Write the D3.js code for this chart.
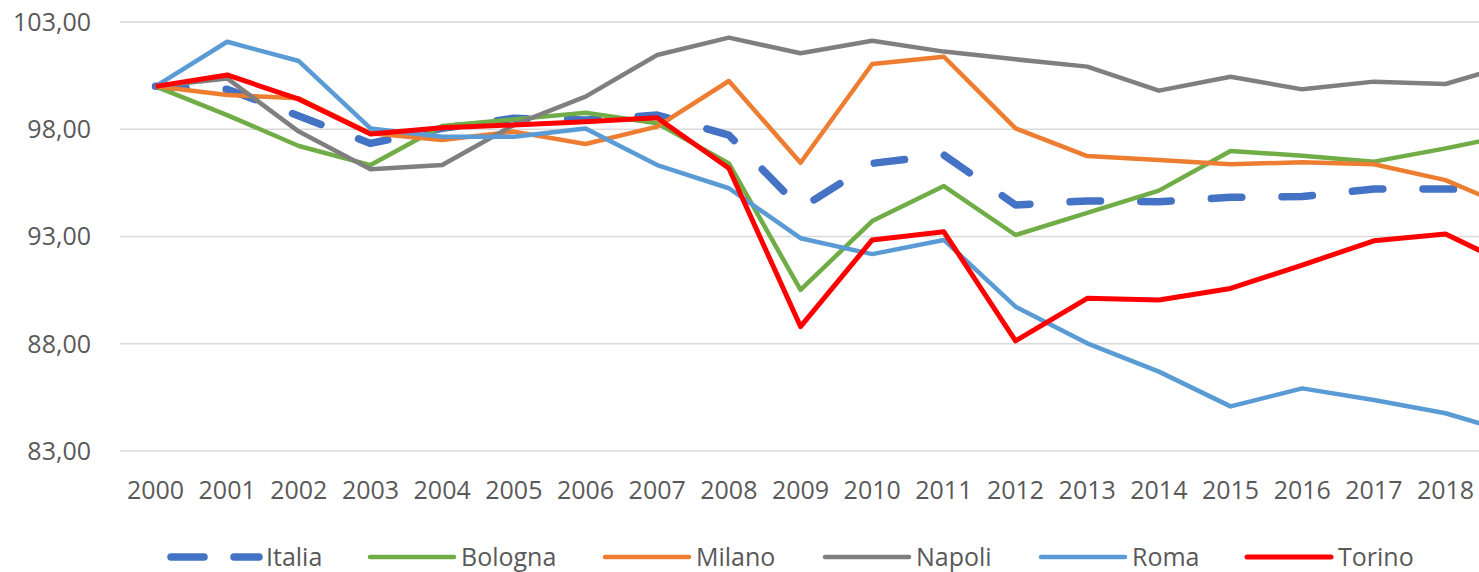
<!DOCTYPE html>
<html>
<head>
<meta charset="utf-8">
<script src="https://cdn.jsdelivr.net/npm/d3@7"></script>
<style>
  html, body { margin: 0; padding: 0; background: #fff; }
  svg { display: block; font-family: "Open Sans", sans-serif; }
</style>
</head>
<body>
<svg id="grafico" width="1479" height="572"></svg>
<script>
// anni (il 2019 esce dal bordo destro, come nell'originale)
let anni = [2000, 2001, 2002, 2003, 2004, 2005, 2006, 2007, 2008, 2009,
            2010, 2011, 2012, 2013, 2014, 2015, 2016, 2017, 2018, 2019];
let etichetteX = [2000, 2001, 2002, 2003, 2004, 2005, 2006, 2007, 2008, 2009,
                  2010, 2011, 2012, 2013, 2014, 2015, 2016, 2017, 2018];
let tickY = [83, 88, 93, 98, 103];

let italia  = [100, 99.86, 98.62, 97.34, 98.04, 98.51, 98.43, 98.66, 97.73, 94.31, 96.41, 96.80, 94.47, 94.66, 94.62, 94.83, 94.86, 95.21, 95.21, 95.2];
let bologna = [100, 98.66, 97.22, 96.33, 98.15, 98.46, 98.77, 98.28, 96.41, 90.51, 93.72, 95.35, 93.07, 94.10, 95.14, 96.99, 96.77, 96.49, 97.11, 97.8];
let milano  = [100, 99.60, 99.44, 97.81, 97.50, 97.89, 97.31, 98.12, 100.25, 96.44, 101.04, 101.38, 98.04, 96.75, 96.57, 96.37, 96.46, 96.37, 95.63, 94.2];
let napoli  = [100, 100.37, 97.89, 96.13, 96.33, 98.2, 99.52, 101.46, 102.27, 101.54, 102.13, 101.62, 101.26, 100.92, 99.80, 100.45, 99.86, 100.22, 100.11, 101.1];
let roma    = [100, 102.08, 101.18, 98.04, 97.65, 97.65, 98.04, 96.33, 95.25, 92.92, 92.18, 92.84, 89.73, 88.02, 86.70, 85.08, 85.92, 85.38, 84.76, 83.77];
let torino  = [100, 100.53, 99.40, 97.78, 98.07, 98.20, 98.35, 98.54, 96.18, 88.80, 92.84, 93.22, 88.13, 90.12, 90.04, 90.58, 91.67, 92.80, 93.12, 91.5];

let nomi   = ['Italia', 'Bologna', 'Milano', 'Napoli', 'Roma', 'Torino'];
let valori = [italia, bologna, milano, napoli, roma, torino];
let colori = ['#4472C4', '#70AD47', '#ED7D31', '#7F7F7F', '#5B9BD5', '#FF0000'];

let svg = d3.select('#grafico');
let largura = 1479;

let locale = d3.formatLocale({decimal: ',', thousands: '.', grouping: [3], currency: ['', '€']});
let fmt = locale.format('.2f');

// scale
let fnx = d3.scalePoint()
    .domain(anni)
    .range([155.5, 155.5 + 19 * 71.67]);

let fny = d3.scaleLinear()
    .domain([83, 103])
    .range([451, 22]);

// griglia orizzontale
svg.selectAll('.griglia')
    .data(tickY)
    .join('line')
    .attr('class', 'griglia')
    .attr('x1', 120)
    .attr('x2', largura)
    .attr('y1', d => fny(d))
    .attr('y2', d => fny(d))
    .attr('stroke', '#D9D9D9')
    .attr('stroke-width', 1.5);

// etichette asse Y
svg.selectAll('.tick-y')
    .data(tickY)
    .join('text')
    .attr('class', 'tick-y')
    .attr('x', 91)
    .attr('y', d => fny(d))
    .attr('dy', '0.35em')
    .attr('text-anchor', 'end')
    .attr('font-size', 25)
    .attr('fill', '#595959')
    .text(d => fmt(d));

// etichette asse X
svg.selectAll('.tick-x')
    .data(etichetteX)
    .join('text')
    .attr('class', 'tick-x')
    .attr('x', d => fnx(d))
    .attr('y', 490)
    .attr('dy', '0.35em')
    .attr('text-anchor', 'middle')
    .attr('font-size', 25)
    .attr('fill', '#595959')
    .text(d => d);

// linee
let linea = d3.line()
    .x((d, i) => fnx(anni[i]))
    .y(d => fny(d));

let serie = nomi.map((n, i) => ({nome: n, valori: valori[i], colore: colori[i]}));

svg.selectAll('.serie')
    .data(serie)
    .join('path')
    .attr('class', 'serie')
    .attr('d', d => linea(d.valori))
    .attr('fill', 'none')
    .attr('stroke', d => d.colore)
    .attr('stroke-width', d => d.nome === 'Italia' ? 7.5 : (d.nome === 'Torino' ? 5 : 4.5))
    .attr('stroke-dasharray', d => d.nome === 'Italia' ? '30.5 40.2' : null)
    .attr('stroke-linecap', d => d.nome === 'Italia' ? 'round' : 'butt')
    .attr('stroke-linejoin', 'round');

// legenda
let legX = [171, 370, 605, 825, 1041, 1247];
let legY = 557;

let leg = svg.selectAll('.legenda')
    .data(serie)
    .join('g')
    .attr('class', 'legenda')
    .attr('transform', (d, i) => `translate(${legX[i]}, ${legY})`);

leg.append('line')
    .attr('x1', 0)
    .attr('x2', d => d.nome === 'Italia' ? 88 : 84)
    .attr('stroke', d => d.colore)
    .attr('stroke-width', d => d.nome === 'Italia' ? 7.5 : (d.nome === 'Torino' ? 5 : 4.5))
    .attr('stroke-dasharray', d => d.nome === 'Italia' ? '33 30' : null)
    .attr('stroke-linecap', 'round');

leg.append('text')
    .attr('x', d => d.nome === 'Italia' ? 95 : 91)
    .attr('dy', '0.35em')
    .attr('font-size', 25)
    .attr('fill', '#595959')
    .text(d => d.nome);
</script>
</body>
</html>
